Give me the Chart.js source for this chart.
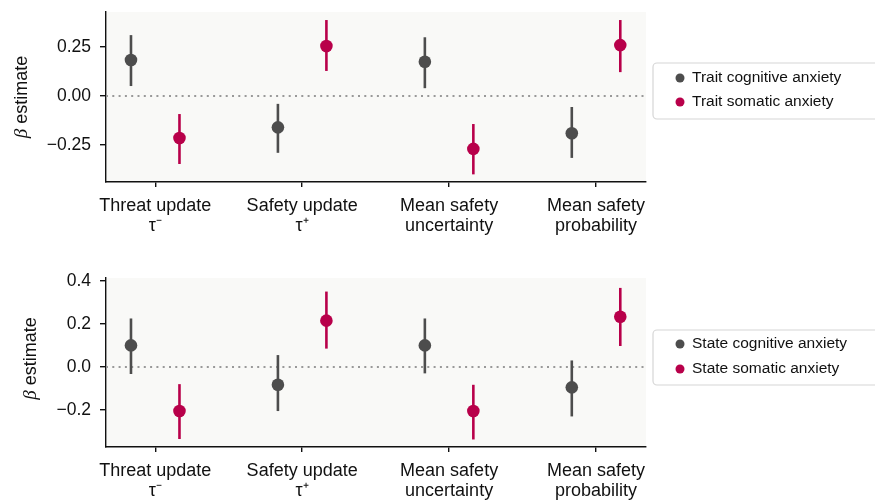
<!DOCTYPE html>
<html>
<head>
<meta charset="utf-8">
<script src="https://cdn.jsdelivr.net/npm/chart.js@4.4.1/dist/chart.umd.min.js"></script>
<style>
    html, body { margin: 0; padding: 0; background: #fff; }
    #wrap { position: relative; width: 875px; height: 502px; overflow: hidden; }
    canvas { position: absolute; left: 0; }
</style>
</head>
<body>
<div id="wrap">
    <canvas id="topChart" width="875" height="251" style="top:0"></canvas>
    <canvas id="bottomChart" width="875" height="251" style="top:251px"></canvas>
</div>
<script>
// Categories (x axis) and tick values
const categories = [
    ["Threat update", "τ\u207B"],
    ["Safety update", "τ\u207A"],
    ["Mean safety", "uncertainty"],
    ["Mean safety", "probability"]
];
const topTicks = [-0.25, 0, 0.25];
const bottomTicks = [-0.2, 0, 0.2, 0.4];

// Top panel: trait anxiety
const traitCognitive = [0.184, -0.16, 0.175, -0.19];
const traitCognitiveLow = [0.051, -0.29, 0.04, -0.316];
const traitCognitiveHigh = [0.311, -0.04, 0.30, -0.056];
const traitSomatic = [-0.214, 0.255, -0.27, 0.26];
const traitSomaticLow = [-0.347, 0.128, -0.40, 0.122];
const traitSomaticHigh = [-0.092, 0.388, -0.143, 0.388];

// Bottom panel: state anxiety
const stateCognitive = [0.10, -0.083, 0.10, -0.095];
const stateCognitiveLow = [-0.033, -0.205, -0.03, -0.23];
const stateCognitiveHigh = [0.225, 0.055, 0.225, 0.03];
const stateSomatic = [-0.205, 0.215, -0.205, 0.233];
const stateSomaticLow = [-0.335, 0.085, -0.337, 0.097];
const stateSomaticHigh = [-0.08, 0.35, -0.083, 0.367];

const GREY = "#4d4d4d";
const RED = "#b8004a";
const FONT = "'Liberation Sans', Arial, Helvetica, sans-serif";
const DODGE = 0.165;

// Plugin: panel background, zero line, error bars, legend box and y title
const panelPlugin = {
    id: "panel",
    beforeDraw(chart) {
        const a = chart.chartArea;
        const ctx = chart.ctx;
        ctx.save();
        ctx.fillStyle = "#f9f9f7";
        ctx.fillRect(a.left, a.top, a.right - a.left, a.bottom - a.top);
        ctx.restore();
    },
    beforeDatasetsDraw(chart) {
        const a = chart.chartArea;
        const ctx = chart.ctx;
        const yScale = chart.scales.y;
        const y0 = yScale.getPixelForValue(0);
        ctx.save();
        ctx.strokeStyle = "#999";
        ctx.lineWidth = 2;
        ctx.setLineDash([2, 4.3]);
        ctx.beginPath();
        ctx.moveTo(a.left, y0);
        ctx.lineTo(a.right, y0);
        ctx.stroke();
        ctx.setLineDash([]);

        chart.data.datasets.forEach((ds, di) => {
            const meta = chart.getDatasetMeta(di);
            ctx.strokeStyle = ds.backgroundColor;
            ctx.lineWidth = 2.6;
            meta.data.forEach((pt, i) => {
                ctx.beginPath();
                ctx.moveTo(pt.x, yScale.getPixelForValue(ds.errLow[i]));
                ctx.lineTo(pt.x, yScale.getPixelForValue(ds.errHigh[i]));
                ctx.stroke();
            });
        });
        ctx.restore();
    },
    afterDraw(chart, args, opts) {
        const ctx = chart.ctx;
        const a = chart.chartArea;
        ctx.save();

        // legend box
        const lg = opts.legend;
        ctx.beginPath();
        ctx.roundRect(lg.x, lg.y, lg.w, lg.h, 4);
        ctx.fillStyle = "#fff";
        ctx.fill();
        ctx.strokeStyle = "#d6d6d6";
        ctx.lineWidth = 1.2;
        ctx.stroke();
        ctx.font = "15.5px " + FONT;
        ctx.textBaseline = "middle";
        chart.data.datasets.forEach((ds, i) => {
            const yy = lg.y + lg.first + i * lg.gap;
            ctx.beginPath();
            ctx.arc(lg.x + 27, yy, 4.5, 0, Math.PI * 2);
            ctx.fillStyle = ds.backgroundColor;
            ctx.fill();
            ctx.fillStyle = "#111";
            ctx.fillText(ds.label, lg.x + 39, yy);
        });

        // y axis title with italic beta
        const cy = (a.top + a.bottom) / 2 + opts.titleShift;
        ctx.translate(opts.titleX, cy);
        ctx.rotate(-Math.PI / 2);
        ctx.fillStyle = "#111";
        ctx.textBaseline = "middle";
        const betaFont = "italic 19px 'Liberation Serif', 'DejaVu Serif', serif";
        const restFont = "18px " + FONT;
        ctx.font = betaFont;
        const wb = ctx.measureText("β").width;
        ctx.font = restFont;
        const wr = ctx.measureText(" estimate").width;
        const x0 = -(wb + wr) / 2;
        ctx.font = betaFont;
        ctx.fillText("β", x0, 0);
        ctx.font = restFont;
        ctx.fillText(" estimate", x0 + wb, 0);
        ctx.restore();
    }
};

function pointsFor(values, shift) {
    return values.map((v, i) => ({ x: i + shift, y: v }));
}

function makeChart(canvasId, series, yTicks, yMin, yMax, decimals, layoutTop, xHeight, pluginOpts) {
    const ctx = document.getElementById(canvasId).getContext("2d");
    return new Chart(ctx, {
        type: "scatter",
        data: {
            datasets: series.map((s, k) => ({
                label: s.label,
                data: pointsFor(s.values, k === 0 ? -DODGE : DODGE),
                errLow: s.low,
                errHigh: s.high,
                backgroundColor: s.color,
                borderColor: s.color,
                pointRadius: 6.3,
                pointHoverRadius: 6.3,
                borderWidth: 0
            }))
        },
        options: {
            responsive: false,
            animation: false,
            events: [],
            layout: { padding: { top: layoutTop, left: 0, right: 875 - 646, bottom: 0 } },
            plugins: {
                legend: { display: false },
                tooltip: { enabled: false },
                panel: pluginOpts
            },
            scales: {
                x: {
                    type: "linear",
                    min: -0.335,
                    max: 3.34,
                    afterBuildTicks: (scale) => {
                        scale.ticks = categories.map((c, i) => ({ value: i }));
                    },
                    afterFit: (scale) => {
                        scale.height = xHeight;
                        scale.paddingLeft = 0;
                        scale.paddingRight = 0;
                    },
                    ticks: {
                        autoSkip: false,
                        maxRotation: 0,
                        padding: 9,
                        color: "#111",
                        font: { family: FONT, size: 18, lineHeight: 1.12 },
                        callback: (v) => categories[v]
                    },
                    grid: {
                        drawOnChartArea: false,
                        drawTicks: true,
                        tickLength: 5,
                        tickColor: "#111",
                        lineWidth: 1.4
                    },
                    border: { display: true, color: "#111", width: 1.4 }
                },
                y: {
                    min: yMin,
                    max: yMax,
                    afterBuildTicks: (scale) => {
                        scale.ticks = yTicks.map(v => ({ value: v }));
                    },
                    afterFit: (scale) => {
                        scale.width = 106;
                        scale.paddingTop = 0;
                        scale.paddingBottom = 0;
                    },
                    ticks: {
                        padding: 9,
                        color: "#111",
                        font: { family: FONT, size: 17.5 },
                        callback: (v) => v.toFixed(decimals).replace("-", "\u2212")
                    },
                    grid: {
                        drawOnChartArea: false,
                        drawTicks: true,
                        tickLength: 6,
                        tickColor: "#111",
                        lineWidth: 1.4
                    },
                    border: { display: true, color: "#111", width: 1.4 }
                }
            }
        },
        plugins: [panelPlugin]
    });
}

document.addEventListener("DOMContentLoaded", () => {
    makeChart("topChart", [
        { label: "Trait cognitive anxiety", values: traitCognitive, low: traitCognitiveLow, high: traitCognitiveHigh, color: GREY },
        { label: "Trait somatic anxiety", values: traitSomatic, low: traitSomaticLow, high: traitSomaticHigh, color: RED }
    ], topTicks, -0.439, 0.429, 2, 12, 69,
    { legend: { x: 653, y: 63, w: 240, h: 56, first: 15, gap: 24 }, titleX: 22, titleShift: 0 });

    makeChart("bottomChart", [
        { label: "State cognitive anxiety", values: stateCognitive, low: stateCognitiveLow, high: stateCognitiveHigh, color: GREY },
        { label: "State somatic anxiety", values: stateSomatic, low: stateSomaticLow, high: stateSomaticHigh, color: RED }
    ], bottomTicks, -0.372, 0.413, 1, 27, 55,
    { legend: { x: 653, y: 79, w: 240, h: 55, first: 14, gap: 25 }, titleX: 31, titleShift: -4 });
});
</script>
</body>
</html>
